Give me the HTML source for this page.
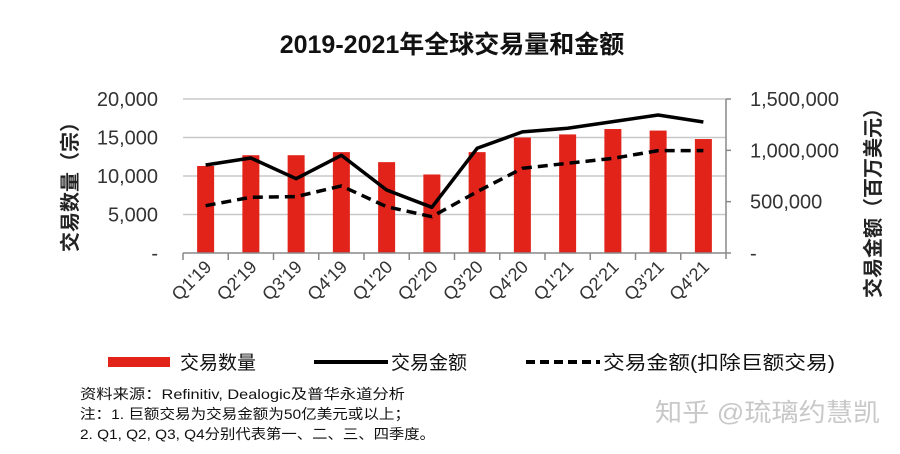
<!DOCTYPE html>
<html><head><meta charset="utf-8"><style>
body{margin:0;background:#fff;width:900px;height:449px;overflow:hidden;font-family:"Liberation Sans","Noto Sans CJK SC",sans-serif;}
</style></head><body>
<svg id="chart" width="900" height="449" xmlns="http://www.w3.org/2000/svg" font-family="Liberation Sans, Noto Sans CJK SC, sans-serif">
<text x="452" y="53" text-anchor="middle" font-size="25" font-weight="bold" fill="#111">2019-2021年全球交易量和金额</text>
<g id="grid"></g><g id="bars"></g><g id="lines"></g><g id="axes"></g>
<text transform="translate(77,182) rotate(-90)" text-anchor="middle" font-size="20" font-weight="bold" fill="#222">交易数量（宗）</text>
<text transform="translate(880,198) rotate(-90)" text-anchor="middle" font-size="20" font-weight="bold" fill="#222">交易金额（百万美元）</text>
<g>
<rect x="108" y="357" width="62" height="10" fill="#e2231a"/>
<text x="180" y="369" font-size="19" fill="#111">交易数量</text>
<line x1="314" y1="362" x2="388" y2="362" stroke="#000" stroke-width="4"/>
<text x="391" y="369" font-size="19" fill="#111">交易金额</text>
<line x1="526" y1="362" x2="600" y2="362" stroke="#000" stroke-width="4" stroke-dasharray="9,5"/>
<text x="603" y="369" font-size="19" fill="#111" textLength="232" lengthAdjust="spacingAndGlyphs">交易金额(扣除巨额交易)</text>
</g>
<g font-size="14" fill="#111">
<text x="80" y="399" textLength="325" lengthAdjust="spacingAndGlyphs">资料来源：Refinitiv, Dealogic及普华永道分析</text>
<text x="80" y="419" textLength="330" lengthAdjust="spacingAndGlyphs">注：1. 巨额交易为交易金额为50亿美元或以上；</text>
<text x="80" y="439" textLength="355" lengthAdjust="spacingAndGlyphs">2. Q1, Q2, Q3, Q4分别代表第一、二、三、四季度。</text>
</g>
<text x="655" y="421" font-size="25" fill="#c8c8c8" textLength="225" lengthAdjust="spacingAndGlyphs">知乎 @琉璃约慧凯</text>
</svg>
<script>
const categories=["Q1'19","Q2'19","Q3'19","Q4'19","Q1'20","Q2'20","Q3'20","Q4'20","Q1'21","Q2'21","Q3'21","Q4'21"];
const dealCount=[11300,12700,12700,13100,11800,10200,13100,15000,15400,16100,15900,14800];
const dealValue=[857000,925000,724000,952000,614000,445000,1020000,1180000,1215000,1280000,1344000,1276000];
const dealValueEx=[461000,543000,549000,653000,451000,354000,597000,825000,874000,922000,997000,997000];
const leftTicks=[0,5000,10000,15000,20000];
const leftTickLabels=["-","5,000","10,000","15,000","20,000"];
const rightTicks=[0,500000,1000000,1500000];
const rightTickLabels=["-","500,000","1,000,000","1,500,000"];
const NS="http://www.w3.org/2000/svg";
const X0=183,X1=726,YT=99,YB=253;
const band=(X1-X0)/categories.length;
const xc=i=>X0+band*(i+0.5);
const yL=v=>YB-(v/20000)*(YB-YT);
const yR=v=>YB-(v/1500000)*(YB-YT);
function mk(t,a,p){const e=document.createElementNS(NS,t);for(const k in a)e.setAttribute(k,a[k]);p.appendChild(e);return e;}
const grid=document.getElementById('grid'),bars=document.getElementById('bars'),lines=document.getElementById('lines'),axes=document.getElementById('axes');
leftTicks.forEach((v,i)=>{
  if(v>0){const g=mk('line',{x1:X0,x2:X1,y1:yL(v),y2:yL(v),stroke:'#c8c8c8','stroke-width':1.5},grid);
  
  }
  const t=mk('text',{x:158,y:yL(v)+7,'text-anchor':'end','font-size':20,fill:'#333'},axes);t.textContent=leftTickLabels[i];
  
  
});
rightTicks.forEach((v,i)=>{
  mk('line',{x1:X1,x2:X1+5,y1:yR(v),y2:yR(v),stroke:'#888','stroke-width':1.5},axes);
  const t=mk('text',{x:750,y:yR(v)+7,'font-size':20,fill:'#333'},axes);t.textContent=rightTickLabels[i];
  
  
});
mk('line',{x1:X1,x2:X1,y1:YT,y2:YB+6,stroke:'#888','stroke-width':1.5},axes);
mk('line',{x1:X0,x2:X1,y1:YB,y2:YB,stroke:'#888','stroke-width':1.5},axes);
categories.forEach((c,i)=>{
  mk('line',{x1:X0+band*i,x2:X0+band*i,y1:YB,y2:YB+7,stroke:'#888','stroke-width':1.5},axes);
  const r=mk('rect',{x:xc(i)-8.5,y:yL(dealCount[i]),width:17,height:YB-yL(dealCount[i]),fill:'#e2231a'},bars);
  
  
  const t=mk('text',{transform:`translate(${xc(i)+7},${YB+15}) rotate(-45)`,'text-anchor':'end','font-size':18,fill:'#333'},axes);t.textContent=c;
  
  
});
const p1=mk('polyline',{points:dealValue.map((v,i)=>xc(i)+','+yR(v)).join(' '),fill:'none',stroke:'#000','stroke-width':3.5,'stroke-linejoin':'round'},lines);


const p2=mk('polyline',{points:dealValueEx.map((v,i)=>xc(i)+','+yR(v)).join(' '),fill:'none',stroke:'#000','stroke-width':3.5,'stroke-dasharray':'10,6'},lines);


</script>
</body></html>
